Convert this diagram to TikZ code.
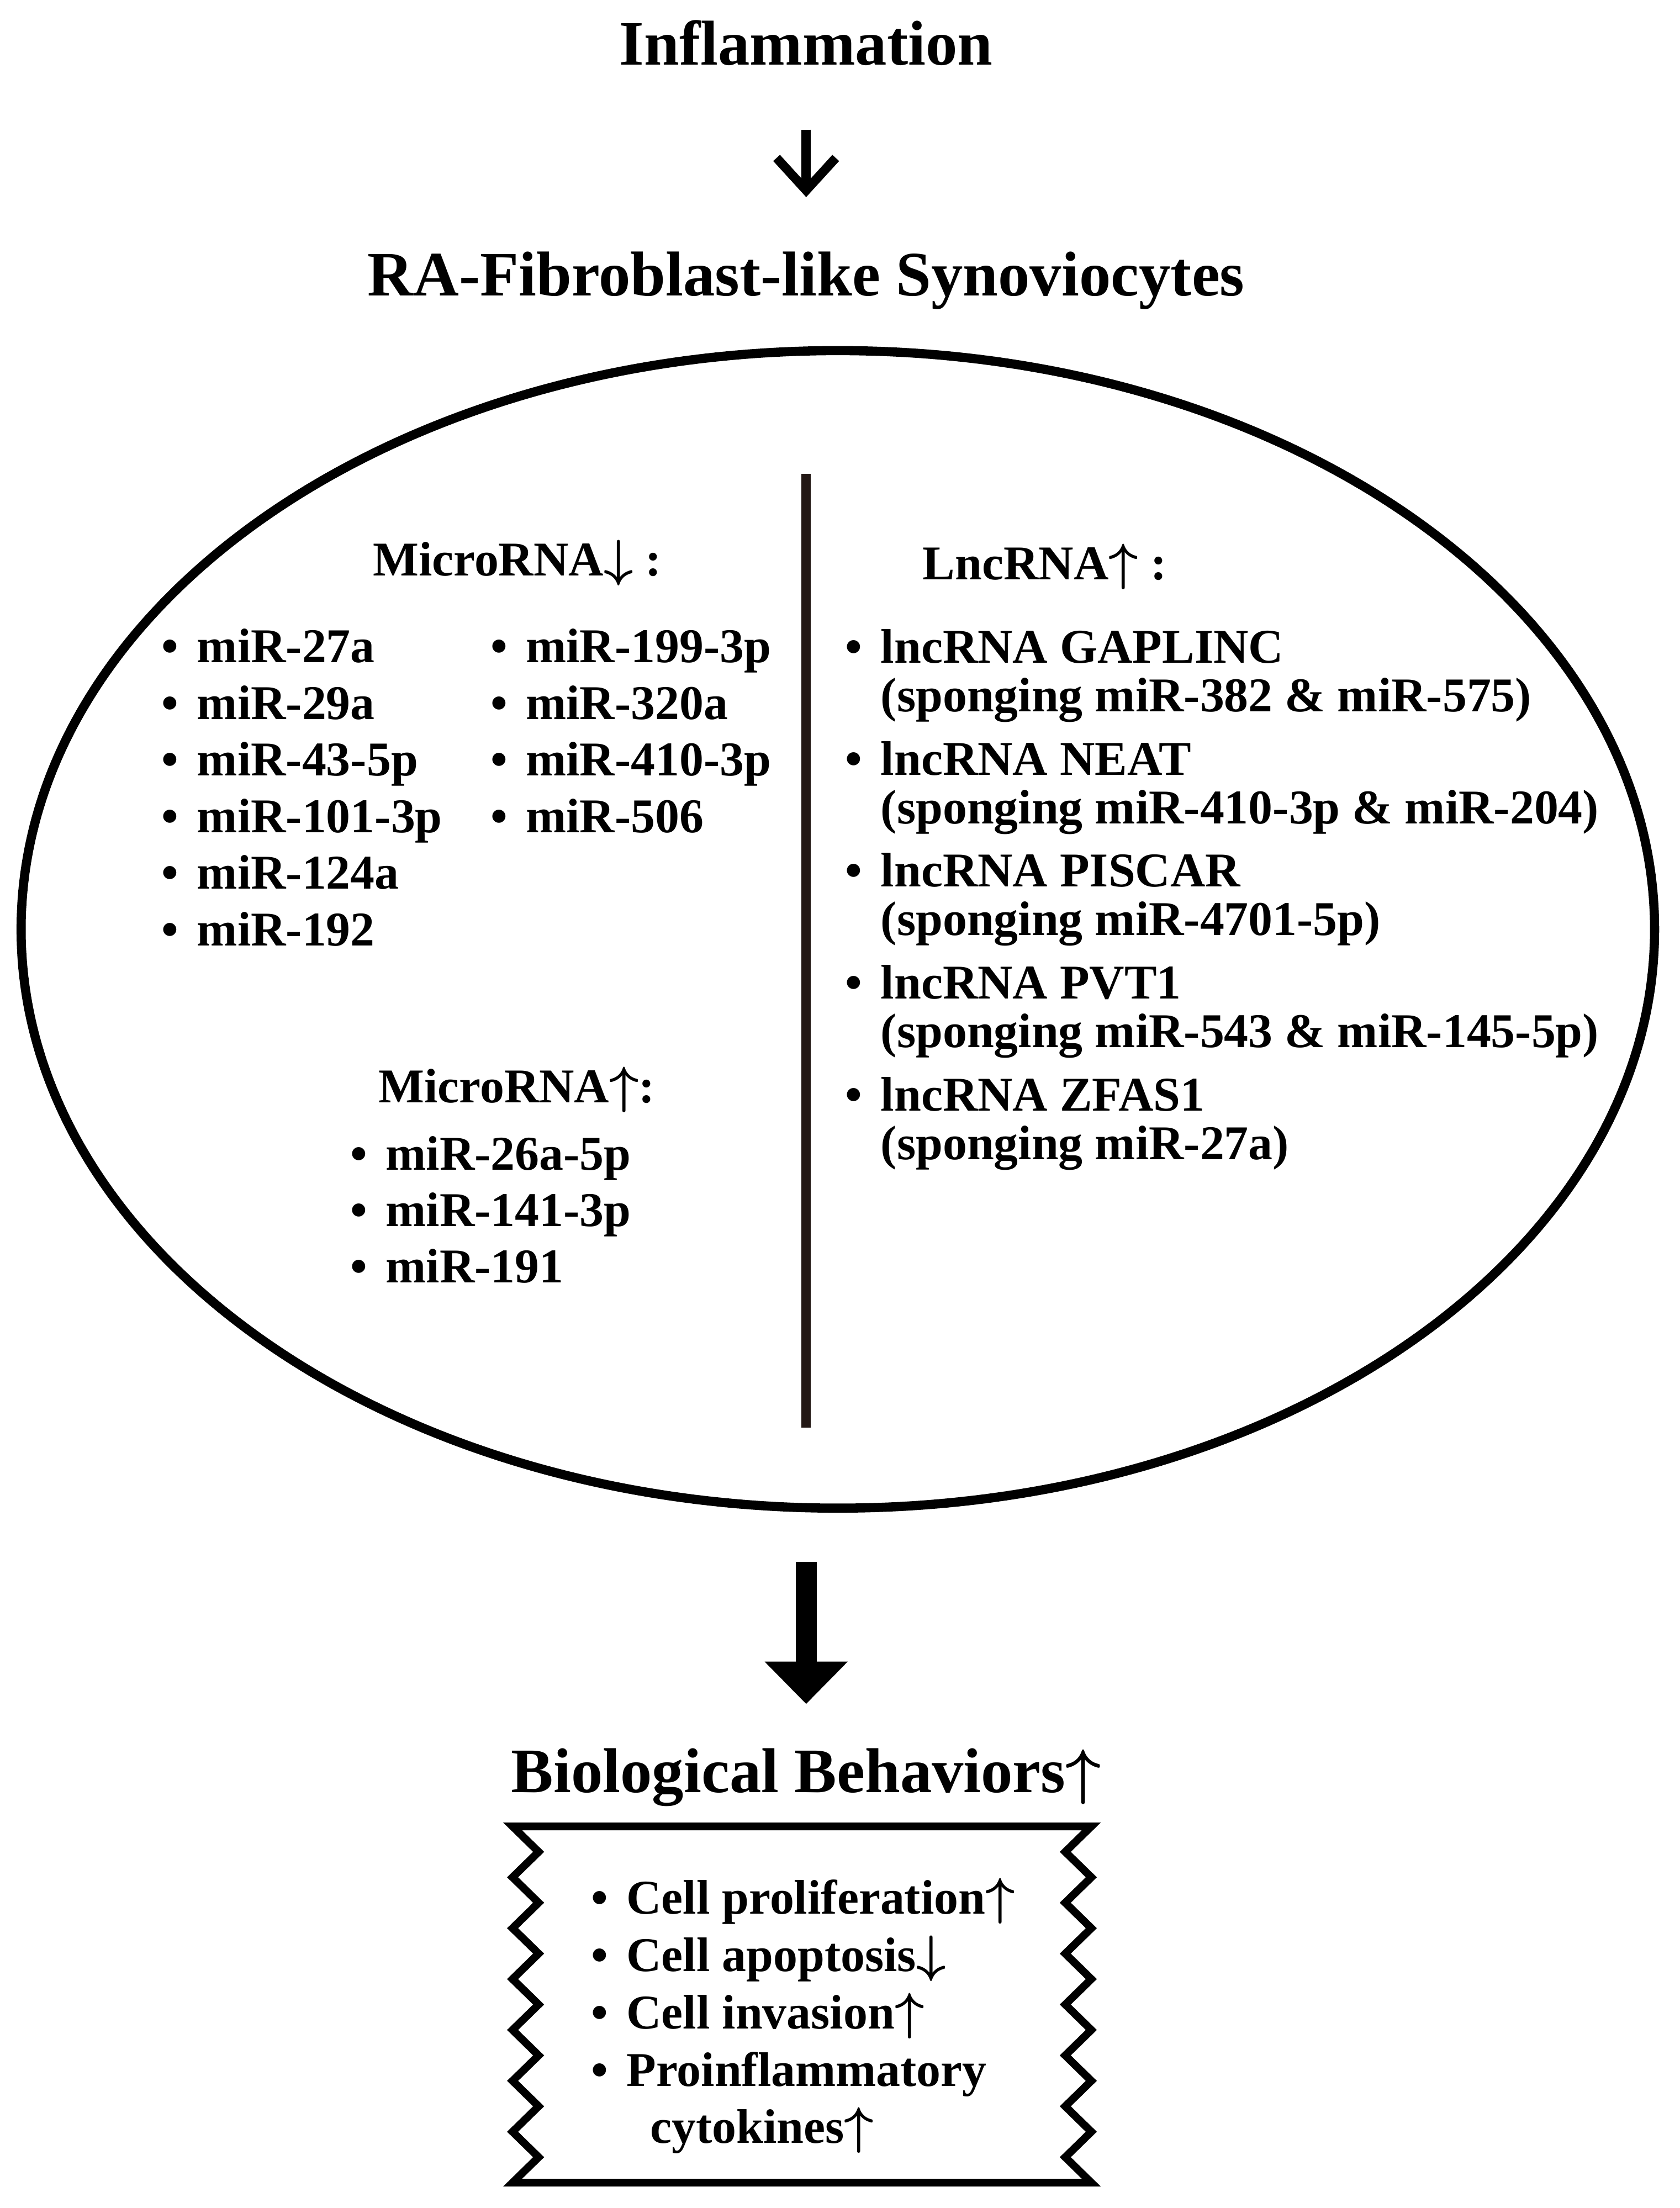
\documentclass[tikz,border=0pt]{standalone}
\usepackage{bm}
\usepackage{fontspec}
\setmainfont{Liberation Serif}
\usepackage{tikz}
\usetikzlibrary{arrows.meta,shapes.geometric}
\definecolor{divbrown}{HTML}{231815}
\newcommand{\bul}{\textbullet\hspace{0.38em}}
\newcommand{\uparr}{\ensuremath{\bm{\uparrow}}}
\newcommand{\dnarr}{\ensuremath{\bm{\downarrow}}}
\tikzset{
  title/.style={font=\fontsize{25.6}{30}\selectfont\bfseries,inner sep=0pt,anchor=base},
  item/.style={font=\fontsize{19.6}{23}\selectfont\bfseries,inner sep=0pt,anchor=base west},
  thinarrow/.style={-{Straight Barb[length=4.6mm,width=8.4mm]},line width=1.3mm},
  bigarrow/.style={-{Triangle[length=6mm,width=11.8mm,line width=0pt]},line width=3mm},
  cellshape/.style={ellipse,draw,line width=1.3mm,minimum width=23.2cm,minimum height=16.44cm,inner sep=0pt,outer sep=0pt},
  divider/.style={divbrown,line width=1.3mm},
  zigbox/.style={line width=1.1mm,line join=miter}
}
\begin{document}
\begin{tikzpicture}
\useasboundingbox (-11.45,13.2) rectangle (12.41,-18.16);
\node[title] (infl) at (0,12.28) {Inflammation};
\node[title] (fls) at (0,9.0) {RA-Fibroblast-like Synoviocytes};
\draw[thinarrow,shorten <=9.2mm,shorten >=14mm] (infl.base) -- (fls.base);
\node[cellshape] (cell) at (0.45,0) {};
\draw[divider] (0,6.47) -- (0,-7.08);
% microRNA, left half
\node[item] (hdn) at (-6.16,5.02) {MicroRNA\dnarr{} :};
\foreach \m [count=\i] in {miR-27a,miR-29a,miR-43-5p,miR-101-3p,miR-124a,miR-192}
  \node[item] (mirdn\i) at (-9.16,{3.79-0.804*(\i-1)}) {\bul\m};
\foreach \m [count=\i] in {miR-199-3p,miR-320a,miR-410-3p,miR-506}
  \node[item] (mirdnb\i) at (-4.49,{3.79-0.804*(\i-1)}) {\bul\m};
\node[item] (hup) at (-6.08,-2.46) {MicroRNA\uparr:};
\foreach \m [count=\i] in {miR-26a-5p,miR-141-3p,miR-191}
  \node[item] (mirup\i) at (-6.48,{-3.42-0.8*(\i-1)}) {\bul\m};
% lncRNA, right half
\node[item] (hlnc) at (1.65,4.97) {LncRNA\uparr{} :};
\foreach \n/\s [count=\i] in {GAPLINC/{miR-382 \& miR-575},NEAT/{miR-410-3p \& miR-204},PISCAR/miR-4701-5p,PVT1/{miR-543 \& miR-145-5p},ZFAS1/miR-27a}{
  \node[item] (lnc\i) at (0.55,{3.784-1.59*(\i-1)}) {\bul lncRNA \n};
  \node[item] (lncsp\i) at (0.55,{3.094-1.59*(\i-1)}) {\hphantom{\bul}(sponging \s)};
}
\node[title] (bio) at (0,-12.26) {Biological Behaviors\uparr};
\draw[bigarrow,shorten <=7.6mm,shorten >=12.6mm] (cell.south -| bio.base) -- (bio.base);
\draw[zigbox] (-4.17,-12.74) -- (4.05,-12.74)
  \foreach \k in {1,...,14}{ -- ({4.05-0.37*mod(\k,2)},{-12.74-0.3614*\k}) }
  -- (-4.17,-17.8)
  \foreach \k in {13,12,...,1}{ -- ({-4.17+0.37*mod(\k,2)},{-12.74-0.3614*\k}) }
  -- cycle;
\foreach \b [count=\i] in {Cell proliferation\uparr,Cell apoptosis\dnarr,Cell invasion\uparr,Proinflammatory}
  \node[item] (bb\i) at (-3.06,{-13.98-0.8175*(\i-1)}) {\bul\b};
\node[item] (bb5) at (-2.22,-17.24) {cytokines\uparr};
\end{tikzpicture}
\end{document}
